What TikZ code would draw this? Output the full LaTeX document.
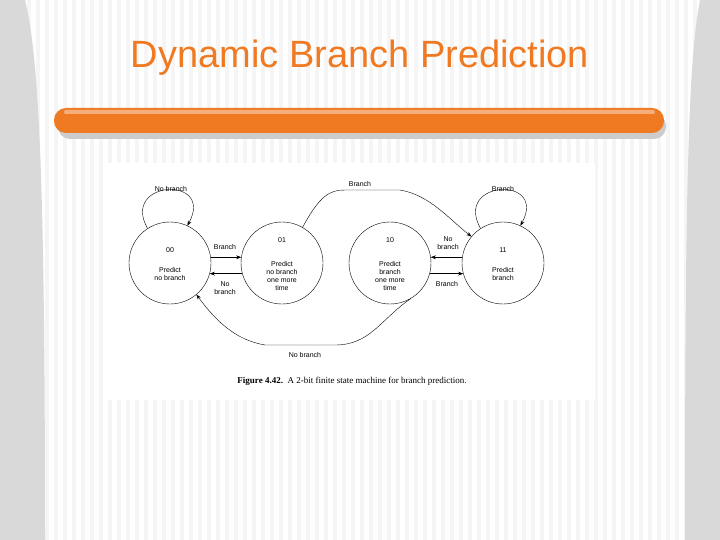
\documentclass[tikz,border=0pt]{standalone}
\usepackage{fontspec}
\setmainfont{Liberation Serif}
\newfontfamily\hv{Liberation Sans}
\usetikzlibrary{arrows.meta}
\definecolor{org}{HTML}{F07A22}
\begin{document}
\begin{tikzpicture}[x=1pt,y=-1pt,
 st/.style={circle,draw,thin,minimum size=82pt,inner sep=0pt},
 lb/.style={font=\hv\fontsize{7}{8}\selectfont,align=center,inner sep=1pt},
 ar/.style={-{Stealth[length=5pt]},thin}]
\useasboundingbox (0,0) rectangle (720,540);
\fill[white] (0,0) rectangle (720,540);
\foreach \i in {0,9,...,720} \fill[gray!8] (\i,0) rectangle ++(4,540);
\fill[gray!30] (0,0) -- (25,0) .. controls (40,60) and (45,200) .. (45,540) -- (0,540) -- cycle;
\fill[gray!30] (720,0) -- (700,0) .. controls (688,60) and (685,200) .. (685,540) -- (720,540) -- cycle;
\node[font=\hv\fontsize{38}{42}\selectfont,text=org] (title) at (360,58) {Dynamic Branch Prediction};
\fill[gray!40,rounded corners=12pt] (58,114) rectangle (666,139);
\fill[org,rounded corners=12pt] (54,108) rectangle (664,133);
\fill[white,opacity=.4,rounded corners=2pt] (64,110) rectangle (655,114);
\fill[white] (108,163) rectangle (595,400);
\node[st] (s00) at (170,263) {};
\node[st] (s01) at (282,263) {};
\node[st] (s10) at (390,263) {};
\node[st] (s11) at (503,263) {};
\node[lb] (t00) at (170,250) {00};
\node[lb] (p00) at (170,274) {Predict\\no branch};
\node[lb] (t01) at (282,240) {01};
\node[lb] (p01) at (282,276) {Predict\\no branch\\one more\\time};
\node[lb] (t10) at (390,240) {10};
\node[lb] (p10) at (390,276) {Predict\\branch\\one more\\time};
\node[lb] (t11) at (503,250) {11};
\node[lb] (p11) at (503,274) {Predict\\branch};
\draw[ar] (s00.123) .. controls (120,180) and (215,175) .. (s00.65);
\node[lb] (l1) at (171,189) {No branch};
\draw[ar] (s11.123) .. controls (453,180) and (548,175) .. (s11.65);
\node[lb] (l2) at (503,189) {Branch};
\draw[ar] (s00.8) -- (s01.172);
\draw[ar] (s01.195) -- (s00.-15);
\node[lb] (l3) at (225,247) {Branch};
\node[lb] (l4) at (225,288) {No\\branch};
\draw[ar] (s11.172) -- (s10.8);
\draw[ar] (s10.-15) -- (s11.195);
\node[lb] (l5) at (448,243) {No\\branch};
\node[lb] (l6) at (447,284) {Branch};
\draw[ar] (s01.60) .. controls (320,195) and (330,190) .. (345,190) -- (400,190) .. controls (430,195) and (450,220) .. (s11.140);
\node[lb] (l7) at (360,184) {Branch};
\draw[ar] (s10.-60) .. controls (380,320) and (370,345) .. (335,345) -- (265,345) .. controls (235,340) and (215,320) .. (s00.-50);
\node[lb] (l8) at (305,355) {No branch};
\node[font=\fontsize{9}{10}\selectfont] (cap) at (352,381) {\textbf{Figure 4.42.}\ \ A 2-bit finite state machine for branch prediction.};
\end{tikzpicture}
\end{document}
